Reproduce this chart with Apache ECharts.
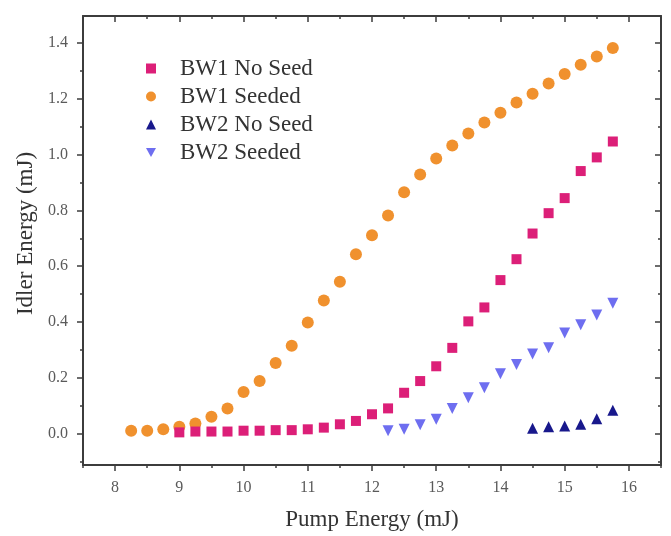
<!DOCTYPE html>
<html>
<head>
<meta charset="utf-8">
<script src="https://cdn.jsdelivr.net/npm/echarts@6/dist/echarts.min.js"></script>
<style>
  html, body { margin: 0; padding: 0; background: #ffffff; }
  #chart { width: 671px; height: 536px; }
</style>
</head>
<body>
<div id="chart"></div>
<script>
// Pump energy (mJ) and idler energy (mJ) for each configuration
const bw1NoSeedPump = [9.0, 9.25, 9.5, 9.75, 10.0, 10.25, 10.5, 10.75, 11.0, 11.25, 11.5, 11.75, 12.0, 12.25,
  12.5, 12.75, 13.0, 13.25, 13.5, 13.75, 14.0, 14.25, 14.5, 14.75, 15.0, 15.25, 15.5, 15.75];
const bw1NoSeedIdler = [0.004, 0.007, 0.007, 0.007, 0.010, 0.010, 0.012, 0.012, 0.015, 0.021, 0.033, 0.045, 0.069, 0.090,
  0.146, 0.188, 0.241, 0.307, 0.402, 0.452, 0.550, 0.625, 0.717, 0.790, 0.844, 0.941, 0.990, 1.047];

const bw1SeededPump = [8.25, 8.5, 8.75, 9.0, 9.25, 9.5, 9.75, 10.0, 10.25, 10.5, 10.75, 11.0, 11.25, 11.5, 11.75, 12.0,
  12.25, 12.5, 12.75, 13.0, 13.25, 13.5, 13.75, 14.0, 14.25, 14.5, 14.75, 15.0, 15.25, 15.5, 15.75];
const bw1SeededIdler = [0.010, 0.010, 0.015, 0.024, 0.036, 0.060, 0.090, 0.149, 0.188, 0.253, 0.315, 0.398, 0.477, 0.544, 0.643, 0.711,
  0.782, 0.865, 0.929, 0.986, 1.033, 1.076, 1.115, 1.150, 1.187, 1.218, 1.255, 1.289, 1.322, 1.352, 1.382];

const bw2NoSeedPump = [14.5, 14.75, 15.0, 15.25, 15.5, 15.75];
const bw2NoSeedIdler = [0.019, 0.024, 0.027, 0.033, 0.053, 0.083];

const bw2SeededPump = [12.25, 12.5, 12.75, 13.0, 13.25, 13.5, 13.75, 14.0, 14.25, 14.5, 14.75, 15.0, 15.25, 15.5, 15.75];
const bw2SeededIdler = [0.010, 0.015, 0.031, 0.051, 0.090, 0.128, 0.164, 0.214, 0.247, 0.285, 0.307, 0.360, 0.390, 0.425, 0.467];

const seriesNames = ['BW1 No Seed', 'BW1 Seeded', 'BW2 No Seed', 'BW2 Seeded'];

// Tick values
const xMajorTicks = [8, 9, 10, 11, 12, 13, 14, 15, 16];
const xMinorTicks = [7.5, 8.5, 9.5, 10.5, 11.5, 12.5, 13.5, 14.5, 15.5, 16.5];
const yMajorTicks = [0.0, 0.2, 0.4, 0.6, 0.8, 1.0, 1.2, 1.4];
const yMinorTicks = [-0.1, 0.1, 0.3, 0.5, 0.7, 0.9, 1.1, 1.3, 1.5];

const X_MIN = 7.5, X_MAX = 16.5;
const Y_MIN = -0.113, Y_MAX = 1.497;

const FONT = '"Liberation Serif", "Times New Roman", serif';
const FRAME = '#3c3c3c';

function zip(xs, ys) { return xs.map((x, i) => [x, ys[i]]); }

function xAxisDef(position, ticks, len, inside, showLine, labels) {
  return {
    type: 'value', position: position, min: X_MIN, max: X_MAX,
    splitLine: { show: false },
    axisLine: { show: showLine, onZero: false, lineStyle: { color: FRAME, width: 2 } },
    axisTick: { show: true, inside: inside, length: len, customValues: ticks, lineStyle: { color: FRAME, width: 1.5 } },
    axisLabel: labels ? {
      show: true, customValues: xMajorTicks, margin: 15,
      fontFamily: FONT, fontSize: 16, color: '#5a5a5a',
      formatter: v => String(v)
    } : { show: false }
  };
}

function yAxisDef(position, ticks, len, inside, showLine, labels) {
  return {
    type: 'value', position: position, min: Y_MIN, max: Y_MAX,
    splitLine: { show: false },
    axisLine: { show: showLine, onZero: false, lineStyle: { color: FRAME, width: 2 } },
    axisTick: { show: true, inside: inside, length: len, customValues: ticks, lineStyle: { color: FRAME, width: 1.5 } },
    axisLabel: labels ? {
      show: true, customValues: yMajorTicks, margin: 15,
      fontFamily: FONT, fontSize: 16, color: '#5a5a5a',
      formatter: v => v.toFixed(1)
    } : { show: false }
  };
}

const xAxes = [
  xAxisDef('bottom', xMajorTicks, 6, false, true, true),
  xAxisDef('bottom', xMinorTicks, 3, false, false, false),
  xAxisDef('top', xMajorTicks, 6, true, true, false),
  xAxisDef('top', xMinorTicks, 3, true, false, false)
];
xAxes[0].name = 'Pump Energy (mJ)';
xAxes[0].nameLocation = 'middle';
xAxes[0].nameGap = 43;
xAxes[0].nameTextStyle = { fontFamily: FONT, fontSize: 23, color: '#333333' };

const yAxes = [
  yAxisDef('left', yMajorTicks, 6, false, true, true),
  yAxisDef('left', yMinorTicks, 3, false, false, false),
  yAxisDef('right', yMajorTicks, 6, true, true, false),
  yAxisDef('right', yMinorTicks, 3, true, false, false)
];
yAxes[0].name = 'Idler Energy (mJ)';
yAxes[0].nameLocation = 'middle';
yAxes[0].nameGap = 35;
yAxes[0].nameTextStyle = { fontFamily: FONT, fontSize: 23, color: '#333333', padding: [0, 0, 0, 14] };

const colors = ['#dc1f78', '#f0912e', '#18188c', '#6e6ef0'];
// downward triangle for the BW2 seeded data
const DOWN_TRIANGLE = 'path://M0,0 L10,0 L5,9 Z';
const symbols = ['rect', 'circle', 'triangle', DOWN_TRIANGLE];
const sizes = [10, 12, 11, 11];
const dataSets = [
  zip(bw1NoSeedPump, bw1NoSeedIdler),
  zip(bw1SeededPump, bw1SeededIdler),
  zip(bw2NoSeedPump, bw2NoSeedIdler),
  zip(bw2SeededPump, bw2SeededIdler)
];

const series = seriesNames.map((name, i) => ({
  name: name,
  type: 'scatter',
  xAxisIndex: 0,
  yAxisIndex: 0,
  symbol: symbols[i],
  symbolSize: sizes[i],
  itemStyle: { color: colors[i], opacity: 1 },
  data: dataSets[i]
}));
// keep the orange circles underneath the pink squares where they overlap
series[1].z = 1;
series[0].z = 3;

const chart = echarts.init(document.getElementById('chart'), null, { renderer: 'canvas' });
chart.setOption({
  animation: false,
  backgroundColor: '#ffffff',
  grid: { left: 83, top: 16, right: 10, bottom: 68, containLabel: false },
  legend: {
    orient: 'vertical',
    left: 141,
    top: 52,
    itemWidth: 10,
    itemHeight: 10,
    itemGap: 5,
    data: seriesNames,
    textStyle: { fontFamily: FONT, fontSize: 23, color: '#333333', padding: [0, 0, 0, 19] }
  },
  xAxis: xAxes,
  yAxis: yAxes,
  series: series
});
</script>
</body>
</html>
